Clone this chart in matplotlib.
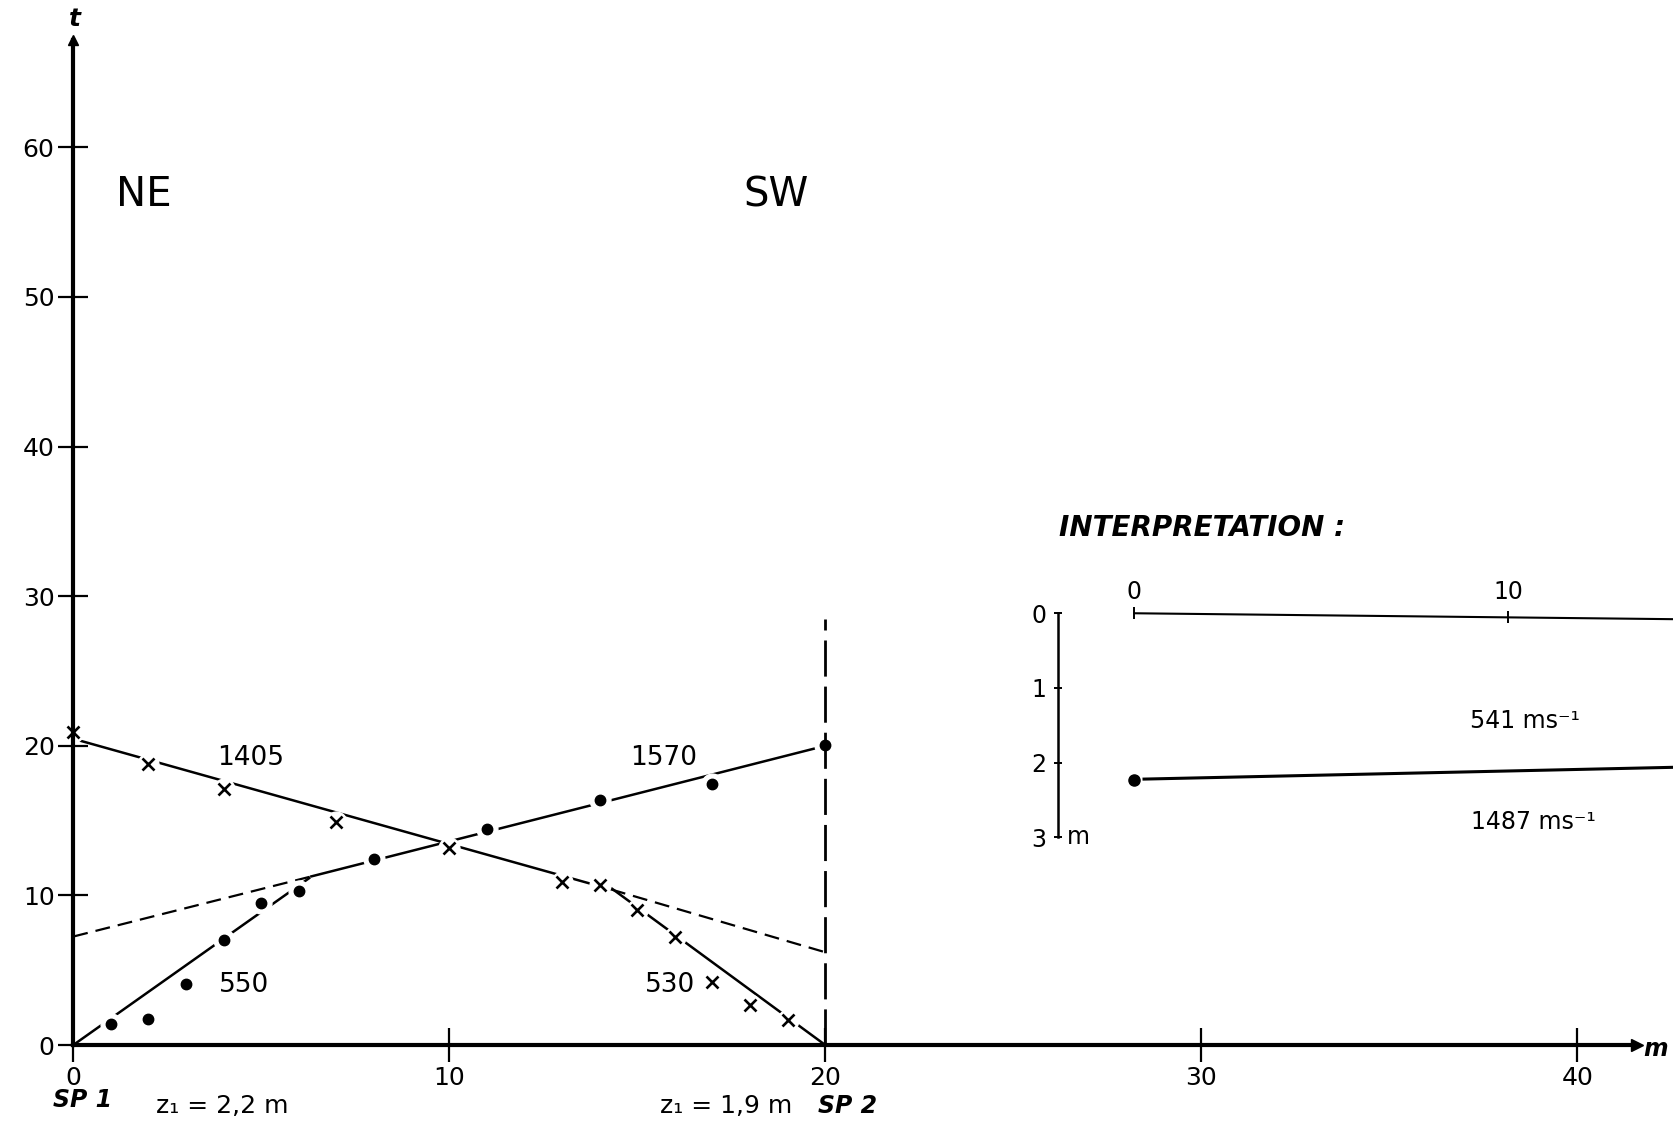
import matplotlib
matplotlib.use("Agg")
import matplotlib.pyplot as plt

plt.rcParams['font.family'] = ['DejaVu Sans']

# first arrivals, shot at SP1 (dots)
fwd_x = [1, 2, 3, 4, 5, 6, 8, 11, 14, 17, 20]
fwd_t = [1.4, 1.75, 4.1, 7.0, 9.5, 10.3, 12.4, 14.45, 16.4, 17.45, 20.05]

# first arrivals, shot at SP2 (crosses)
rev_x = [0, 2, 4, 7, 10, 13, 14, 15, 16, 17, 18, 19]
rev_t = [20.95, 18.8, 17.1, 14.9, 13.15, 10.9, 10.7, 9.0, 7.25, 4.2, 2.65, 1.7]

# fitted travel-time segments (end points)
fwd_direct_x, fwd_direct_t = [0, 6.3], [0, 11.2]
fwd_refr_x, fwd_refr_t = [6.3, 20], [11.25, 20.0]
fwd_ext_x, fwd_ext_t = [0, 6.3], [7.25, 11.25]
rev_refr_x, rev_refr_t = [0, 14.3], [20.47, 10.4]
rev_ext_x, rev_ext_t = [14.3, 20], [10.4, 6.2]
rev_direct_x, rev_direct_t = [14.3, 20], [10.5, 0]
sp2_x, sp2_t = [20, 20], [0, 28.5]

vel_labels = ['1405', '1570', '550', '530']
vel_x = [4.72, 15.7, 4.53, 15.87]
vel_t = [19.2, 19.2, 4.0, 4.0]

dir_labels = ['NE', 'SW']
dir_x = [1.88, 18.7]

x_ticks = [0, 10, 20, 30, 40]
t_ticks = [0, 10, 20, 30, 40, 50, 60]

# interpretation section
surf_x, surf_d = [0, 20], [0, 0.11]
refr_x, refr_d = [0.26, 20], [2.22, 2.0]
shot_d = 2.23
dist_ticks = [0, 10]
depth_ticks = [0, 1, 2, 3]
layer_labels = ['541 ms\u207b\u00b9', '1487 ms\u207b\u00b9']
layer_x = [10.45, 10.66]
layer_d = [1.445, 2.79]

fig = plt.figure(figsize=(16.73, 11.24), dpi=100)
ax = fig.add_axes([0, 0, 1, 1])
ax.set_xlim(-1.949, 42.545)
ax.set_ylim(-5.28, 69.85)

# travel-time lines
for xs, ts in [(fwd_direct_x, fwd_direct_t), (fwd_refr_x, fwd_refr_t),
               (rev_refr_x, rev_refr_t), (rev_direct_x, rev_direct_t)]:
    ax.plot(xs, ts, color='black', lw=1.8, zorder=2, solid_capstyle='butt')
for xs, ts in [(fwd_ext_x, fwd_ext_t), (rev_ext_x, rev_ext_t)]:
    ax.plot(xs, ts, color='black', lw=1.6, dashes=(6.7, 3.6), zorder=2)

# white halos give the breaks in the lines at each pick
ax.plot(fwd_x, fwd_t, 'o', ms=15, color='white', mec='white', zorder=3)
ax.plot(rev_x, rev_t, 'o', ms=15, color='white', mec='white', zorder=3)

ax.plot(sp2_x, sp2_t, color='black', lw=2, dashes=(13, 3.6), zorder=3.5)

ax.plot(fwd_x, fwd_t, 'o', ms=7.5, color='black', zorder=4)
ax.plot(rev_x, rev_t, 'x', ms=8, mew=1.9, color='black', zorder=4)

# axes through the origin
for side in ['top', 'right']:
    ax.spines[side].set_visible(False)
ax.spines['left'].set_position(('data', 0))
ax.spines['bottom'].set_position(('data', 0))
ax.spines['left'].set_bounds(0, 67.2)
ax.spines['bottom'].set_bounds(0, 41.6)
for side in ['left', 'bottom']:
    ax.spines[side].set_linewidth(3)
    ax.spines[side].set_zorder(5)
ax.xaxis.set_zorder(6)
ax.yaxis.set_zorder(6)
ax.set_xticks(x_ticks)
ax.set_yticks(t_ticks)
ax.tick_params(axis='x', direction='inout', length=24, width=1.6, pad=3, labelsize=18)
ax.tick_params(axis='y', direction='inout', length=21, width=1.6, pad=3, labelsize=18)
ax.plot([41.6], [0], marker='>', ms=9, color='black', clip_on=False, zorder=5)
ax.plot([0], [67.2], marker='^', ms=7, color='black', clip_on=False, zorder=5)
ax.text(0.04, 68.6, 't', fontsize=18, fontweight='bold', fontstyle='italic',
        ha='center', va='center')
ax.text(42.4, -0.3, 'm', fontsize=17, fontweight='bold', fontstyle='italic',
        ha='right', va='center')

for lab, x, t in zip(vel_labels, vel_x, vel_t):
    ax.text(x, t, lab, fontsize=19, ha='center', va='center')
for lab, x in zip(dir_labels, dir_x):
    ax.text(x, 56.8, lab, fontsize=29, ha='center', va='center')

ax.text(0.26, -3.7, 'SP 1', fontsize=17, fontweight='bold', fontstyle='italic',
        ha='center', va='center')
ax.text(3.95, -4.1, 'z\u2081 = 2,2 m', fontsize=18, ha='center', va='center')
ax.text(17.35, -4.1, 'z\u2081 = 1,9 m', fontsize=18, ha='center', va='center')
ax.text(20.6, -4.1, 'SP 2', fontsize=17, fontweight='bold', fontstyle='italic',
        ha='center', va='center')

# interpretation panel
ax2 = fig.add_axes([0.59773, 0.21708, 0.40227, 0.35587])
ax2.patch.set_alpha(0)
ax2.set_xlim(-3.59, 14.40)
ax2.set_ylim(3.571, -1.784)
for side in ['top', 'right', 'bottom']:
    ax2.spines[side].set_visible(False)
ax2.spines['left'].set_position(('data', -2.05))
ax2.spines['left'].set_bounds(0, 3)
ax2.spines['left'].set_linewidth(1.8)
ax2.set_xticks([])
ax2.set_yticks(depth_ticks)
ax2.tick_params(axis='y', direction='inout', length=6, width=1.4, pad=5, labelsize=17)

ax2.plot(surf_x, surf_d, color='black', lw=1.5)
ax2.plot(dist_ticks, [0, 0.055], '|', ms=9, mew=1.4, color='black')
for x in dist_ticks:
    ax2.text(x, -0.28, str(x), fontsize=17, ha='center', va='center')
ax2.plot(refr_x, refr_d, color='black', lw=2.2)
ax2.plot([0], [shot_d], 'o', ms=8, color='black')
ax2.text(-1.5, 3.0, 'm', fontsize=17, ha='center', va='center')
for lab, x, d in zip(layer_labels, layer_x, layer_d):
    ax2.text(x, d, lab, fontsize=17, ha='center', va='center')
ax2.text(-2.0, -1.14, 'INTERPRETATION :', fontsize=20, fontweight='bold',
         fontstyle='italic', ha='left', va='center')

fig.savefig('out.png', dpi=100)
